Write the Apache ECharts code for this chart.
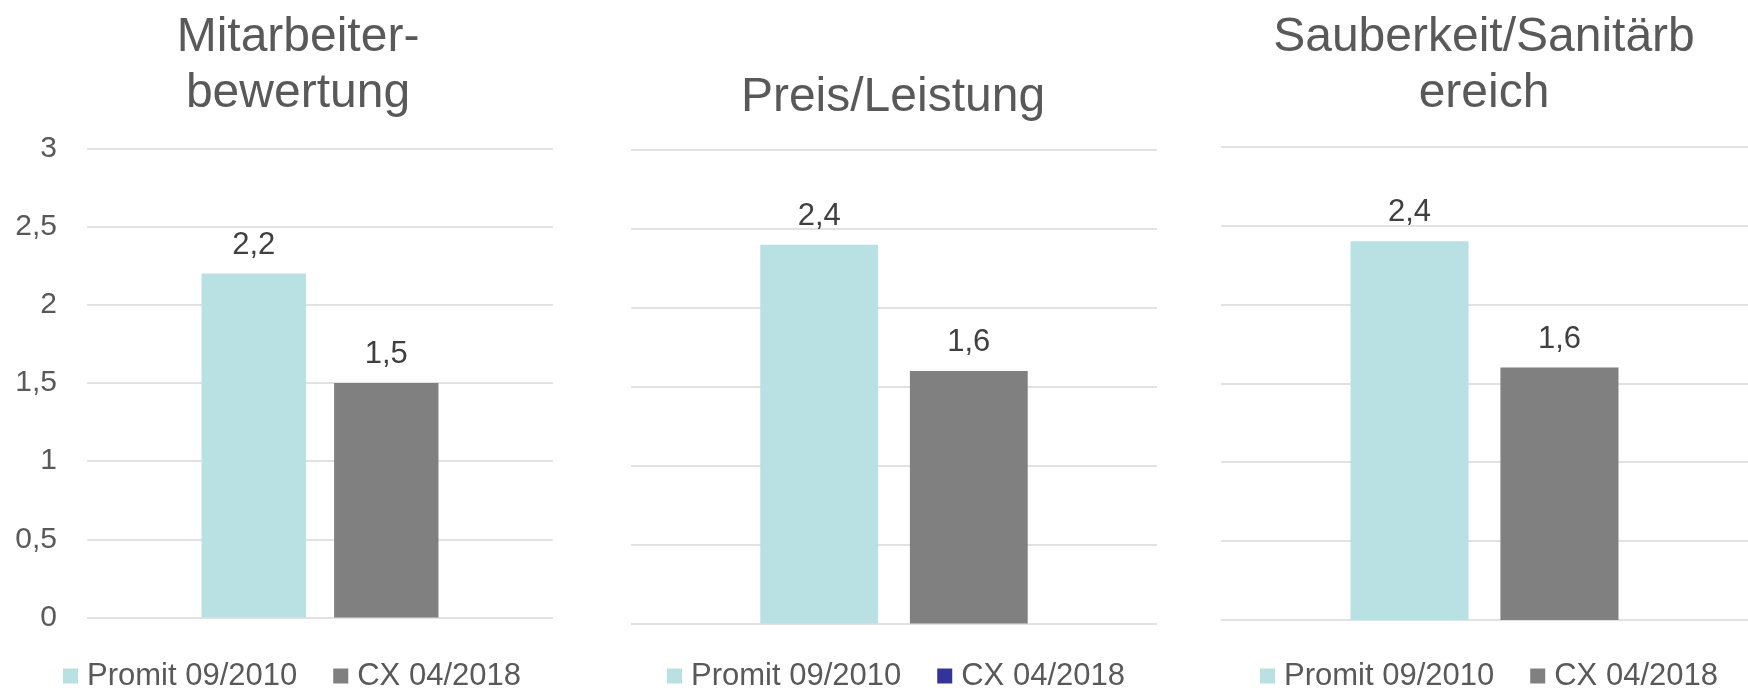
<!DOCTYPE html>
<html>
<head>
<meta charset="utf-8">
<script src="https://cdn.jsdelivr.net/npm/echarts@6/dist/echarts.min.js"></script>
<style>
    html, body { margin: 0; padding: 0; background: #fff; }
    #chart { width: 1748px; height: 691px; }
</style>
</head>
<body>
<div id="chart"></div>
<script>
    // data
    const panelTitles = ['Mitarbeiter-\nbewertung', 'Preis/Leistung', 'Sauberkeit/Sanitärb\nereich']
    const seriesNames = ['Promit 09/2010', 'CX 04/2018']
    const promitValues = [2.2, 2.4, 2.4]
    const cxValues = [1.5, 1.6, 1.6]
    const yTickLabels = ['0', '0,5', '1', '1,5', '2', '2,5', '3']

    const font = 'Liberation Sans, Arial, sans-serif'
    const lightColor = '#b9e0e3'
    const greyColor = '#808080'
    const textColor = '#595959'

    // per-panel layout (pixels)
    const grids = [
        { left: 87, top: 148.5, width: 466, height: 469 },
        { left: 631, top: 150, width: 526, height: 473.5 },
        { left: 1221, top: 146.7, width: 527, height: 473.3 }
    ]
    const titlePos = [
        { x: 298, y: 10 },
        { x: 893, y: 70 },
        { x: 1484, y: 10 }
    ]
    const legendLeft = [63, 667, 1260]

    const chart = echarts.init(document.getElementById('chart'))

    const title = []
    const xAxis = []
    const yAxis = []
    const series = []
    const legend = []

    for (let i = 0; i < 3; i++) {
        title.push({
            text: panelTitles[i],
            left: titlePos[i].x,
            top: titlePos[i].y,
            padding: 0,
            textAlign: 'center',
            textStyle: {
                fontFamily: font,
                fontSize: 48,
                fontWeight: 'normal',
                color: textColor,
                lineHeight: 56
            }
        })
        xAxis.push({
            type: 'category',
            gridIndex: i,
            data: [''],
            axisLine: { show: false },
            axisTick: { show: false },
            axisLabel: { show: false }
        })
        yAxis.push({
            type: 'value',
            gridIndex: i,
            min: 0,
            max: 3,
            interval: 0.5,
            axisLine: { show: false },
            axisTick: { show: false },
            axisLabel: {
                show: i === 0,
                margin: 30,
                fontFamily: font,
                fontSize: 30,
                color: textColor,
                formatter: function (v) {
                    return yTickLabels[Math.round(v / 0.5)]
                }
            },
            splitLine: { lineStyle: { color: '#d9d9d9', width: 1.5 } }
        })
        const vals = [promitValues[i], cxValues[i]]
        const colors = [lightColor, greyColor]
        for (let s = 0; s < 2; s++) {
            series.push({
                type: 'bar',
                name: seriesNames[s],
                xAxisIndex: i,
                yAxisIndex: i,
                data: [vals[s]],
                barWidth: '22.4%',
                barGap: '27%',
                itemStyle: { color: colors[s] },
                label: {
                    show: true,
                    position: 'top',
                    distance: 13,
                    fontFamily: font,
                    fontSize: 31,
                    color: '#404040',
                    formatter: function (p) {
                        return p.value.toFixed(1).replace('.', ',')
                    }
                },
                animation: false
            })
        }
        legend.push({
            left: legendLeft[i],
            top: 660,
            padding: 0,
            itemGap: 36,
            itemWidth: 15,
            itemHeight: 15,
            icon: 'rect',
            selectedMode: false,
            data: [
                { name: seriesNames[0], itemStyle: { color: lightColor } },
                // the middle chart shows a dark blue key in the original
                { name: seriesNames[1], itemStyle: { color: i === 1 ? '#333399' : greyColor } }
            ],
            textStyle: {
                fontFamily: font,
                fontSize: 31,
                color: textColor,
                lineHeight: 32,
                padding: [0, 0, 0, 4]
            }
        })
    }

    chart.setOption({
        animation: false,
        title: title,
        legend: legend,
        grid: grids,
        xAxis: xAxis,
        yAxis: yAxis,
        series: series
    })
</script>
</body>
</html>
